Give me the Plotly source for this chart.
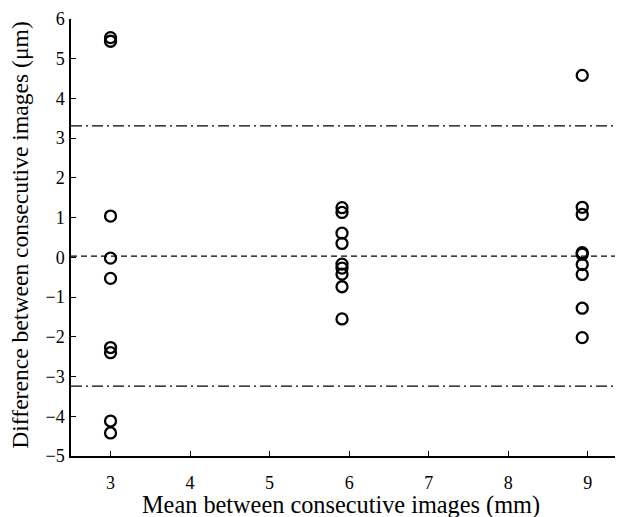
import plotly.graph_objects as go

x_group1 = [3.0] * 9
y_group1 = [5.53, 5.44, 1.04, -0.02, -0.53, -2.27, -2.40, -4.12, -4.42]
x_group2 = [5.91] * 9
y_group2 = [1.25, 1.13, 0.61, 0.35, -0.17, -0.27, -0.42, -0.74, -1.55]
x_group3 = [8.93] * 9
y_group3 = [4.58, 1.26, 1.08, 0.12, 0.08, -0.18, -0.43, -1.28, -2.02]

mean_diff = 0.03
upper_loa = 3.31
lower_loa = -3.24

x_title = "Mean between consecutive images (mm)"
y_title = "Difference between consecutive images (μm)"

xs = x_group1 + x_group2 + x_group3
ys = y_group1 + y_group2 + y_group3

fig = go.Figure()
fig.add_trace(go.Scatter(
    x=xs, y=ys, mode="markers",
    marker=dict(symbol="circle-open", size=11, color="black", line=dict(width=2.3, color="black")),
    showlegend=False,
))

for yv, dash in [(upper_loa, "11px,4px,2px,4px"), (lower_loa, "11px,4px,2px,4px"), (mean_diff, "6px,4px")]:
    fig.add_shape(type="line", xref="paper", x0=0, x1=1, yref="y", y0=yv, y1=yv,
                  line=dict(color="black", width=1.4, dash=dash), layer="below")

font = dict(family="Liberation Serif, Times New Roman, serif", color="black")

fig.add_annotation(text=x_title, xref="paper", yref="paper", x=0.4904, y=-0.1125,
                   xanchor="center", yanchor="middle", showarrow=False,
                   font=dict(**font, size=24.3))
fig.add_annotation(text=y_title, xref="paper", yref="paper", x=-0.092, y=0.507,
                   xanchor="center", yanchor="middle", showarrow=False, textangle=-90,
                   font=dict(**font, size=23.6))

# page body has an 8px margin, so the figure is 8px smaller and margins shifted
fig.update_layout(
    width=615, height=509,
    margin=dict(l=63, r=1, t=11, b=61, autoexpand=False),
    plot_bgcolor="white", paper_bgcolor="white",
    font=dict(**font, size=18),
    xaxis=dict(range=[2.503, 9.43], tickvals=[3, 4, 5, 6, 7, 8, 9], ticks="inside", ticklen=5,
               tickwidth=1.3, tickcolor="black", showline=True, linecolor="black", linewidth=1.5,
               showgrid=False, zeroline=False, tickfont=dict(**font, size=18), automargin=False,
               ticklabelstandoff=10),
    yaxis=dict(range=[-5, 6], tickvals=list(range(-5, 7)), ticks="inside", ticklen=5,
               tickwidth=1.3, tickcolor="black", showline=True, linecolor="black", linewidth=1.5,
               showgrid=False, zeroline=False, tickfont=dict(**font, size=18), automargin=False,
               ticklabelstandoff=1),
)

fig.write_html("out.html")
